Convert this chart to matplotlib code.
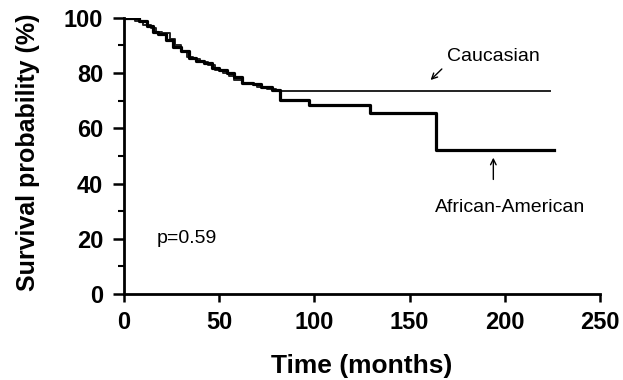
import numpy as np
import matplotlib
matplotlib.use("Agg")
import matplotlib.pyplot as plt

plt.rcParams['font.family'] = ['Liberation Sans', 'DejaVu Sans']

# Kaplan-Meier steps (months, survival %)
cauc_t = [0, 6, 10, 14, 17, 20, 24, 27, 30, 33, 36, 40, 44, 48, 52, 55, 58, 62, 66, 70, 75, 80, 224]
cauc_s = [100, 99, 97.5, 96.5, 95, 94.5, 92.5, 90, 88, 86, 85, 84, 83, 81, 80, 79, 77.5, 76.5, 76, 75, 74.2, 73.5, 73.5]

aa_t = [0, 8, 12, 15, 18, 22, 26, 30, 34, 38, 42, 46, 50, 54, 58, 62, 68, 72, 78, 82, 97, 129, 164, 226]
aa_s = [100, 99, 97, 95, 94, 92, 89.5, 88, 85.5, 84.5, 83.5, 82, 81, 80, 78.5, 76.5, 76, 75, 73.8, 70.3, 68.5, 65.6, 52.3, 52.3]

fig = plt.figure(figsize=(6.23, 3.8), dpi=100)
ax = fig.add_axes([0.199, 0.226, 0.764, 0.727])

ax.step(cauc_t, cauc_s, where='post', color='#222222', lw=1.4)
ax.step(aa_t, aa_s, where='post', color='black', lw=2.3)

ax.set_xlim(0, 250)
ax.set_ylim(0, 100)
ax.set_xticks([0, 50, 100, 150, 200, 250])
ax.set_yticks([0, 20, 40, 60, 80, 100])
ax.set_yticks([10, 30, 50, 70, 90], minor=True)

for s in ['top', 'right']:
    ax.spines[s].set_visible(False)
for s in ['left', 'bottom']:
    ax.spines[s].set_linewidth(2)
ax.tick_params(axis='x', which='major', length=6, width=1.8, labelsize=17, pad=6)
ax.tick_params(axis='y', which='major', length=8, width=1.8, labelsize=17, pad=7)
ax.tick_params(axis='y', which='minor', length=4.5, width=1.5)
for lab in ax.get_xticklabels() + ax.get_yticklabels():
    lab.set_fontweight('bold')

ax.set_xlabel('Time (months)', fontsize=19, fontweight='bold', va='center')
ax.xaxis.set_label_coords(0.499, -0.261)
ax.set_ylabel('Survival probability (%)', fontsize=18, fontweight='bold', va='center')
ax.yaxis.set_label_coords(-0.202, 0.514)

ax.annotate('', xy=(160, 76.8), xytext=(168, 82.2),
            arrowprops=dict(arrowstyle='->', color='black', lw=1))
ax.text(194, 86, 'Caucasian', fontsize=14, ha='center', va='center')

ax.annotate('', xy=(194, 50.4), xytext=(194, 40.5),
            arrowprops=dict(arrowstyle='->', color='black', lw=1))
ax.text(203, 31.5, 'African-American', fontsize=14, ha='center', va='center')

ax.text(17, 20.3, 'p=0.59', fontsize=14, ha='left', va='center')

fig.savefig('out.png', dpi=100)
